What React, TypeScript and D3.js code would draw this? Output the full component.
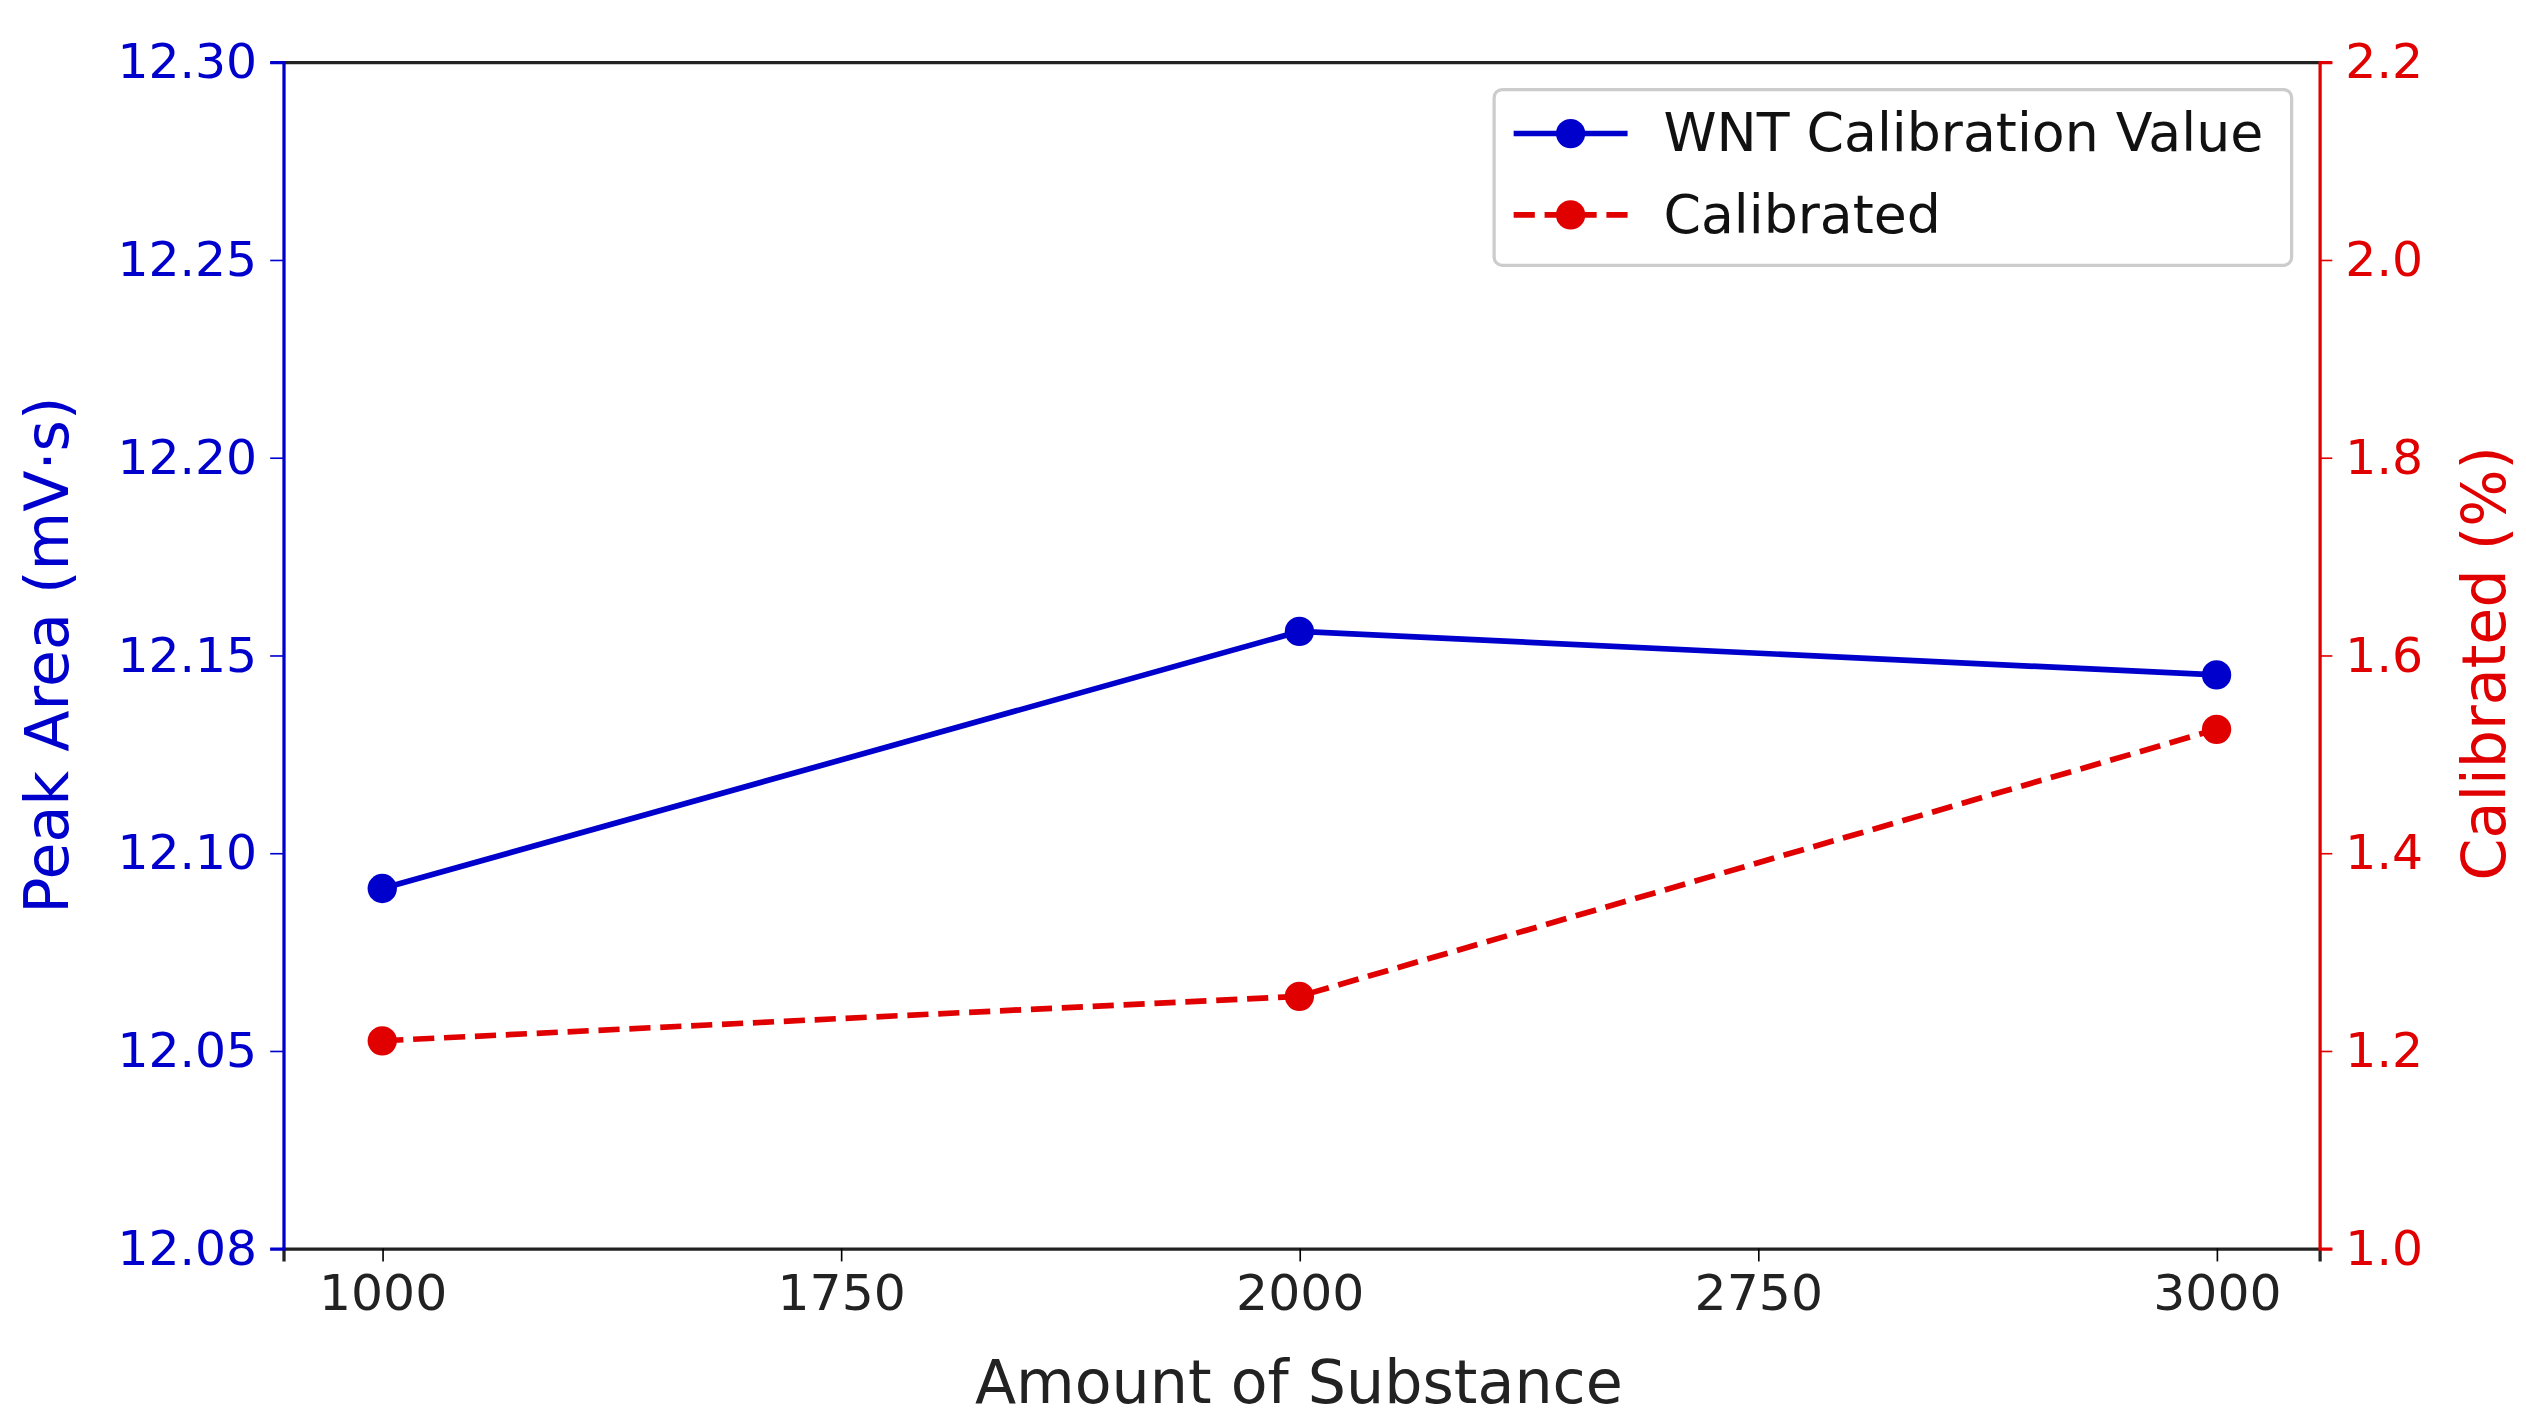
import { useEffect, useRef } from 'react';
import * as d3 from 'd3';

const amounts = [1000, 2000, 3000];
const peakArea = [12.091, 12.156, 12.145];
const calibrated = [1.21, 1.255, 1.525];
const xTicks = [1000, 1500, 2000, 2500, 3000];
const xTickLabels = ['1000', '1750', '2000', '2750', '3000'];
const leftTicks = [12.3, 12.25, 12.2, 12.15, 12.1, 12.05, 12.0];
const leftTickLabels = ['12.30', '12.25', '12.20', '12.15', '12.10', '12.05', '12.08'];
const rightTicks = [1.0, 1.2, 1.4, 1.6, 1.8, 2.0, 2.2];

const BLUE = '#0000cc';
const RED = '#e00000';
const FONT = 'DejaVu Sans, sans-serif';

const App = () => {
  const ref = useRef<SVGSVGElement>(null);

  useEffect(() => {
    const W = 1552, H = 873;
    const m = { left: 174, right: 1425, top: 38, bottom: 767 };
    const svg = d3.select(ref.current).attr('viewBox', `0 0 ${W} ${H}`);
    svg.selectAll('*').remove();
    svg.append('rect').attr('width', W).attr('height', H).attr('fill', '#fff');

    const x = d3.scaleLinear().domain([892, 3112]).range([m.left, m.right]);
    const yL = d3.scaleLinear().domain([12.0, 12.3]).range([m.bottom, m.top]);
    const yR = d3.scaleLinear().domain([1.0, 2.2]).range([m.bottom, m.top]);

    const bottom = svg.append('g').attr('transform', `translate(0,${m.bottom})`)
      .call(d3.axisBottom(x).tickValues(xTicks).tickFormat((_, i) => xTickLabels[i]).tickSize(8).tickPadding(8));
    bottom.select('.domain').attr('stroke', '#222').attr('stroke-width', 2);
    bottom.selectAll('text').attr('font-size', 31).attr('font-family', FONT).attr('fill', '#222');

    const top = svg.append('g').attr('transform', `translate(0,${m.top})`)
      .call(d3.axisTop(x).tickValues([]).tickSize(0));
    top.select('.domain').attr('stroke', '#222').attr('stroke-width', 2);

    const left = svg.append('g').attr('transform', `translate(${m.left},0)`)
      .call(d3.axisLeft(yL).tickValues(leftTicks).tickFormat((_, i) => leftTickLabels[i]).tickSize(8).tickPadding(8));
    left.select('.domain').attr('stroke', BLUE).attr('stroke-width', 2);
    left.selectAll('line').attr('stroke', BLUE);
    left.selectAll('text').attr('font-size', 30).attr('font-family', FONT).attr('fill', BLUE);

    const right = svg.append('g').attr('transform', `translate(${m.right},0)`)
      .call(d3.axisRight(yR).tickValues(rightTicks).tickFormat(d3.format('.1f')).tickSize(8).tickPadding(8));
    right.select('.domain').attr('stroke', RED).attr('stroke-width', 2);
    right.selectAll('line').attr('stroke', RED);
    right.selectAll('text').attr('font-size', 30).attr('font-family', FONT).attr('fill', RED);

    svg.append('text').attr('x', 798).attr('y', 862).attr('text-anchor', 'middle')
      .attr('font-size', 37).attr('font-family', FONT).attr('fill', '#222').text('Amount of Substance');
    svg.append('text').attr('transform', `translate(42,${(m.top + m.bottom) / 2}) rotate(-90)`)
      .attr('text-anchor', 'middle').attr('font-size', 37).attr('font-family', FONT).attr('fill', BLUE)
      .text('Peak Area (mV·s)');
    svg.append('text').attr('transform', `translate(1539,${(m.top + m.bottom) / 2 + 5}) rotate(-90)`)
      .attr('text-anchor', 'middle').attr('font-size', 37).attr('font-family', FONT).attr('fill', RED)
      .text('Calibrated (%)');

    const lineL = d3.line<number>().x((_, i) => x(amounts[i])).y(d => yL(d));
    const lineR = d3.line<number>().x((_, i) => x(amounts[i])).y(d => yR(d));

    svg.append('path').attr('d', lineL(peakArea)).attr('fill', 'none').attr('stroke', BLUE).attr('stroke-width', 3.5);
    svg.selectAll('.pb').data(peakArea).join('circle')
      .attr('cx', (_, i) => x(amounts[i])).attr('cy', d => yL(d)).attr('r', 9).attr('fill', BLUE);

    svg.append('path').attr('d', lineR(calibrated)).attr('fill', 'none').attr('stroke', RED)
      .attr('stroke-width', 3.5).attr('stroke-dasharray', '13,6');
    svg.selectAll('.pr').data(calibrated).join('circle')
      .attr('cx', (_, i) => x(amounts[i])).attr('cy', d => yR(d)).attr('r', 9).attr('fill', RED);

    // legend
    const lg = svg.append('g').attr('transform', 'translate(918,55)');
    lg.append('rect').attr('width', 490).attr('height', 108).attr('rx', 5)
      .attr('fill', '#fff').attr('stroke', '#ccc').attr('stroke-width', 2);
    const items = [
      { label: 'WNT Calibration Value', color: BLUE, dash: null },
      { label: 'Calibrated', color: RED, dash: '13,6' },
    ];
    items.forEach((it, i) => {
      const cy = 27 + i * 50;
      lg.append('line').attr('x1', 12).attr('x2', 82).attr('y1', cy).attr('y2', cy)
        .attr('stroke', it.color).attr('stroke-width', 3.5).attr('stroke-dasharray', it.dash);
      lg.append('circle').attr('cx', 47).attr('cy', cy).attr('r', 9).attr('fill', it.color);
      lg.append('text').attr('x', 104).attr('y', cy + 11).attr('font-size', 33)
        .attr('font-family', FONT).attr('fill', '#111').text(it.label);
    });
  }, []);

  return (
    <svg ref={ref} width={2526} height={1421}
      style={{ position: 'fixed', left: 0, top: 0, display: 'block' }} />
  );
};

export default App;
